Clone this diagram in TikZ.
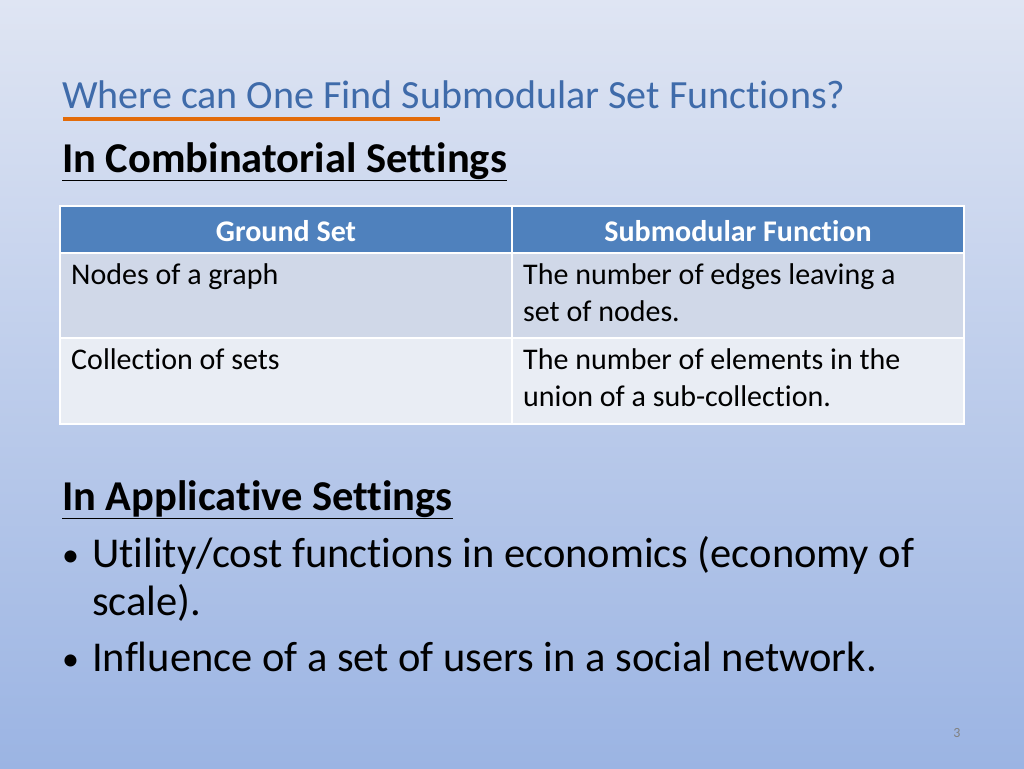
\documentclass[tikz,border=0pt]{standalone}
\usepackage{fontspec}
\setmainfont[RawFeature=-liga]{Carlito}
\definecolor{titleblue}{HTML}{3F6BAA}
\definecolor{hdr}{HTML}{4F81BD}
\definecolor{rowa}{HTML}{D0D8E8}
\definecolor{rowb}{HTML}{E9EDF4}
\definecolor{orangeline}{HTML}{E36C0A}
\definecolor{bgtop}{HTML}{DFE5F3}
\definecolor{bgbot}{HTML}{9BB4E3}
\begin{document}
\begin{tikzpicture}[x=1pt,y=-1pt,
  cell/.style={draw=white,line width=1.5pt},
  hdrtxt/.style={text=white,font=\fontsize{30}{34}\selectfont\bfseries,anchor=center},
  celltxt/.style={anchor=north west,align=left,font=\fontsize{30}{37}\selectfont,inner sep=0pt},
  heading/.style={anchor=base west,inner sep=0pt,font=\fontsize{42.5}{46}\selectfont\bfseries},
  bullet/.style={anchor=base west,inner sep=0pt,font=\fontsize{42.5}{48}\selectfont}]
\shade[top color=bgtop, bottom color=bgbot] (0,0) rectangle (1024,768);
\useasboundingbox (0,0) rectangle (1024,768);
\node[anchor=base west,inner sep=0pt,text=titleblue,font=\fontsize{40}{44}\selectfont] (title) at (62,108) {Where can One Find Submodular Set Functions?};
\draw[orangeline,line width=4pt] (63,119) -- (440,119);
\node[heading] (h1) at (62,172) {\underline{In Combinatorial Settings}};
% table
\fill[hdr] (60,206) rectangle (964,253);
\fill[rowa] (60,253) rectangle (964,338);
\fill[rowb] (60,338) rectangle (964,424);
\draw[cell] (60,206) rectangle (964,424);
\draw[cell] (512,206) -- (512,424);
\draw[cell] (60,253) -- (964,253);
\draw[cell] (60,338) -- (964,338);
\node[hdrtxt] (c1) at (286,231) {Ground Set};
\node[hdrtxt] (c2) at (738,231) {Submodular Function};
\node[celltxt] (r1a) at (71,263) {Nodes of a graph};
\node[celltxt] (r1b) at (523,263) {The number of edges leaving a\\set of nodes.};
\node[celltxt] (r2a) at (71,348) {Collection of sets};
\node[celltxt] (r2b) at (523,348) {The number of elements in the\\union of a sub-collection.};
\node[heading] (h2) at (62,510) {\underline{In Applicative Settings}};
\node[bullet,font=\fontsize{34}{40}\selectfont] (b1m) at (62,566) {•};
\node[bullet] (b1) at (92,567) {Utility/cost functions in economics (economy of};
\node[bullet] (b1c) at (92,615) {scale).};
\node[bullet,font=\fontsize{34}{40}\selectfont] (b2m) at (62,670) {•};
\node[bullet] (b2) at (92,671) {Influence of a set of users in a social network.};
\node[anchor=center,text=gray,font=\fontsize{14}{16}\selectfont] (pg) at (957,733) {3};
\end{tikzpicture}
\end{document}
